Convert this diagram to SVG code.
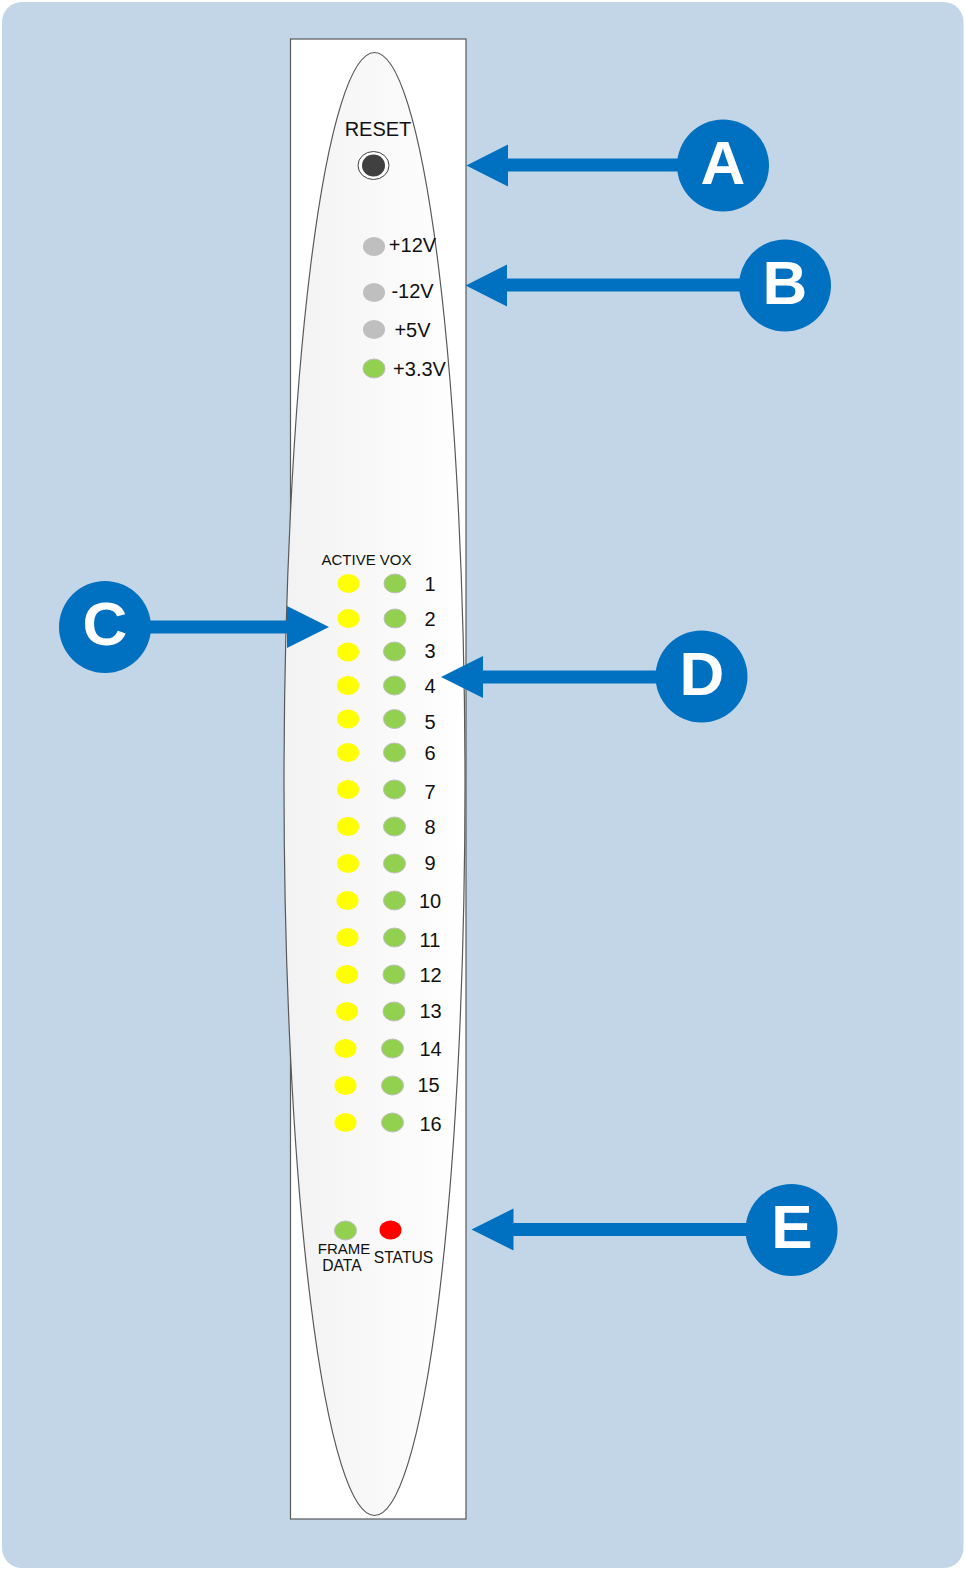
<svg xmlns="http://www.w3.org/2000/svg" width="965" height="1569" viewBox="0 0 965 1569">
<style>
text{font-family:"Liberation Sans",Arial,sans-serif;fill:#111;text-anchor:middle}
.n{font-size:20px}.s{font-size:15px}.t{font-size:15.700px}
.y{fill:#ffff00}.g{fill:#92d050;stroke:#bfbfbf;stroke-width:1}.o{fill:#bfbfbf}
.sh{fill:#0070c0;stroke:none}.c{fill:#0070c0}.l{font-size:62px;font-weight:bold;fill:#fff}
</style>
<defs>
<linearGradient id="pan" x1="0" x2="1" y1="0" y2="0"><stop offset="0" stop-color="#f2f2f2"/><stop offset="1" stop-color="#ffffff"/></linearGradient>
</defs>
<rect width="965" height="1569" fill="#fff"/>
<rect x="2" y="2" width="961.500" height="1566" rx="20" fill="#c3d6e8"/>
<g id="panel">
<rect x="290.500" y="39" width="175.500" height="1480" fill="#fff" stroke="#595959" stroke-width="1.200"/>
<ellipse cx="374.500" cy="784" rx="90.500" ry="731.500" fill="url(#pan)" stroke="#595959" stroke-width="1.200"/>
</g>
<g id="reset">
<text class="n" x="378" y="136">RESET</text>
<ellipse cx="373.500" cy="165.500" rx="15.500" ry="14" fill="#fff" stroke="#404040" stroke-width="1"/>
<ellipse cx="373.500" cy="165.500" rx="11.500" ry="11" fill="#404040"/>
</g>
<g id="power">
<ellipse class="o" cx="374" cy="246.500" rx="11" ry="9.500"/><text class="n" x="412.500" y="252">+12V</text>
<ellipse class="o" cx="374" cy="292.500" rx="11" ry="9.500"/><text class="n" x="412.500" y="298">-12V</text>
<ellipse class="o" cx="374" cy="329.500" rx="11" ry="9.500"/><text class="n" x="412.500" y="337">+5V</text>
<ellipse class="g" cx="374" cy="368.500" rx="11" ry="9.500"/><text class="n" x="419.500" y="376">+3.3V</text>
</g>
<g id="channels">
<text class="s" x="366.500" y="565">ACTIVE VOX</text>
<ellipse class="y" cx="348.500" cy="583.500" rx="11" ry="9.500"/><ellipse class="g" cx="395" cy="583.500" rx="11" ry="9.500"/><text class="n" x="430" y="591">1</text>
<ellipse class="y" cx="348.500" cy="618.500" rx="11" ry="9.500"/><ellipse class="g" cx="395" cy="618.500" rx="11" ry="9.500"/><text class="n" x="430" y="626">2</text>
<ellipse class="y" cx="348" cy="652" rx="11" ry="9.500"/><ellipse class="g" cx="394.500" cy="651.500" rx="11" ry="9.500"/><text class="n" x="430" y="658">3</text>
<ellipse class="y" cx="348" cy="685.500" rx="11" ry="9.500"/><ellipse class="g" cx="394.500" cy="685.500" rx="11" ry="9.500"/><text class="n" x="430" y="693">4</text>
<ellipse class="y" cx="348" cy="719" rx="11" ry="9.500"/><ellipse class="g" cx="394.500" cy="719" rx="11" ry="9.500"/><text class="n" x="430" y="729">5</text>
<ellipse class="y" cx="348" cy="752.500" rx="11" ry="9.500"/><ellipse class="g" cx="394.500" cy="752.500" rx="11" ry="9.500"/><text class="n" x="430" y="760">6</text>
<ellipse class="y" cx="348" cy="789.500" rx="11" ry="9.500"/><ellipse class="g" cx="394.500" cy="789.500" rx="11" ry="9.500"/><text class="n" x="430" y="799">7</text>
<ellipse class="y" cx="348" cy="826.500" rx="11" ry="9.500"/><ellipse class="g" cx="394.500" cy="826.500" rx="11" ry="9.500"/><text class="n" x="430" y="834">8</text>
<ellipse class="y" cx="348" cy="863.500" rx="11" ry="9.500"/><ellipse class="g" cx="394.500" cy="863.500" rx="11" ry="9.500"/><text class="n" x="430" y="870">9</text>
<ellipse class="y" cx="347.500" cy="900.500" rx="11" ry="9.500"/><ellipse class="g" cx="394.500" cy="900.500" rx="11" ry="9.500"/><text class="n" x="430" y="908">10</text>
<ellipse class="y" cx="347.500" cy="937.500" rx="11" ry="9.500"/><ellipse class="g" cx="394.500" cy="937.500" rx="11" ry="9.500"/><text class="n" x="430" y="946.500">11</text>
<ellipse class="y" cx="347" cy="974.500" rx="11" ry="9.500"/><ellipse class="g" cx="394" cy="974.500" rx="11" ry="9.500"/><text class="n" x="430.500" y="982">12</text>
<ellipse class="y" cx="347" cy="1011.500" rx="11" ry="9.500"/><ellipse class="g" cx="394" cy="1011.500" rx="11" ry="9.500"/><text class="n" x="430.500" y="1018">13</text>
<ellipse class="y" cx="345.500" cy="1048.500" rx="11" ry="9.500"/><ellipse class="g" cx="392.500" cy="1048.500" rx="11" ry="9.500"/><text class="n" x="430.500" y="1055.500">14</text>
<ellipse class="y" cx="345.500" cy="1085.500" rx="11" ry="9.500"/><ellipse class="g" cx="392.500" cy="1085.500" rx="11" ry="9.500"/><text class="n" x="428.500" y="1092">15</text>
<ellipse class="y" cx="345.500" cy="1122.500" rx="11" ry="9.500"/><ellipse class="g" cx="392.500" cy="1122.500" rx="11" ry="9.500"/><text class="n" x="430.500" y="1131">16</text>
</g>
<g id="frame-status">
<ellipse class="g" cx="345.500" cy="1230.500" rx="11" ry="9.500"/>
<ellipse cx="390.500" cy="1230" rx="11" ry="9.500" fill="#ff0000"/>
<text class="s" x="344" y="1254">FRAME</text><text class="t" x="342" y="1271">DATA</text>
<text class="t" x="403.500" y="1263">STATUS</text>
</g>
<g id="connectors">
<path class="sh" d="M466.500 165.500L508 144.500V158.500H690V171.500H508V186.500Z"/>
<path class="sh" d="M465.500 285.500L507 264.500V278.500H750V291.500H507V306.500Z"/>
<path class="sh" d="M329 627L287 606V620.500H120V633.500H287V648Z"/>
<path class="sh" d="M441 677L483 656V670.500H670V683.500H483V698Z"/>
<path class="sh" d="M471.500 1229.500L513.500 1208.500V1223H760V1236H513.500V1250.500Z"/>
</g>
<g id="A"><circle class="c" cx="723" cy="165.500" r="46"/><text class="l" x="723" y="184">A</text></g>
<g id="B"><circle class="c" cx="785" cy="285.500" r="46"/><text class="l" x="785" y="304">B</text></g>
<g id="C"><circle class="c" cx="105" cy="627" r="46"/><text class="l" x="105" y="645">C</text></g>
<g id="D"><circle class="c" cx="701.500" cy="676.500" r="46"/><text class="l" x="702" y="695">D</text></g>
<g id="E"><circle class="c" cx="791.500" cy="1230" r="46"/><text class="l" x="792" y="1248">E</text></g>
</svg>
